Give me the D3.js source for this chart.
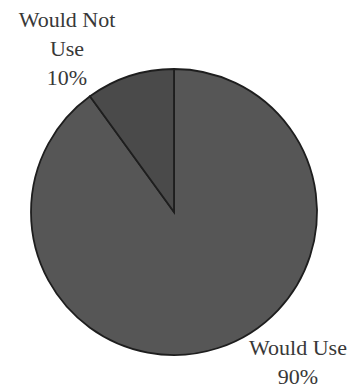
<!DOCTYPE html>
<html>
<head>
<meta charset="utf-8">
<script src="https://cdn.jsdelivr.net/npm/d3@7"></script>
<style>
  body { margin: 0; background: #fff; }
</style>
</head>
<body>
<div id="chart"></div>
<script>
// chart data
var labels = ["Would Use", "Would Not Use"];
var values = [90, 10];
var colors = ["#565656", "#4a4a4a"];

var width = 356, height = 389;
var cx = 174, cy = 212, radius = 143;

var svg = d3.select("#chart")
  .append("svg")
    .attr("width", width)
    .attr("height", height);

var g = svg.append("g")
    .attr("transform", "translate(" + cx + "," + cy + ")");

var pie = d3.pie().sort(null).value(function(d) { return d; });
var arc = d3.arc().innerRadius(0).outerRadius(radius);

var arcs = pie(values);

g.selectAll("path")
  .data(arcs)
  .enter()
  .append("path")
    .attr("d", arc)
    .style("fill", function(d, i) { return colors[i]; })
    .style("stroke", "#1e1e1e")
    .style("stroke-width", 1.8);

// labels: first word lines, then percent
var labelLines = [
  ["Would Use", values[0] + "%"],
  ["Would Not", "Use", values[1] + "%"]
];
var labelPos = [[298, 355], [67, 27]];
var lineH = 29;

svg.selectAll("text.lbl")
  .data(labelLines)
  .enter()
  .append("text")
    .attr("class", "lbl")
    .attr("text-anchor", "middle")
    .attr("font-family", "'Liberation Serif', 'DejaVu Serif', serif")
    .attr("font-size", 22)
    .attr("fill", "#383838")
    .each(function(lines, i) {
      d3.select(this).selectAll("tspan")
        .data(lines)
        .enter()
        .append("tspan")
          .attr("x", labelPos[i][0])
          .attr("y", function(l, j) { return labelPos[i][1] + j * lineH; })
          .text(function(l) { return l; });
    });
</script>
</body>
</html>
